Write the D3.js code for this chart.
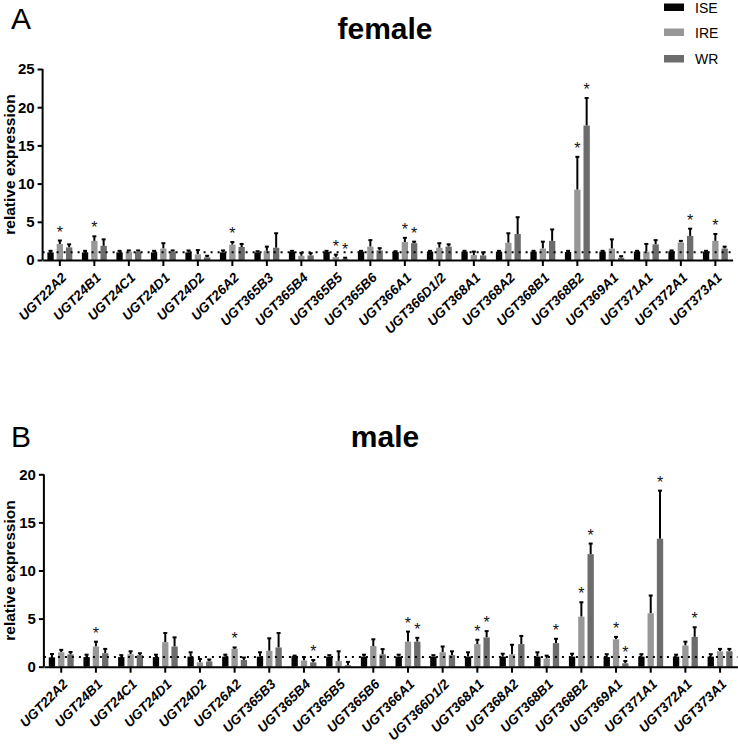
<!DOCTYPE html>
<html><head><meta charset="utf-8">
<script src="https://cdn.jsdelivr.net/npm/d3@7"></script>
<style>body{margin:0;background:#fff}svg{display:block;font-family:"Liberation Sans",Arial,sans-serif}</style>
</head><body><svg id="c" width="738" height="744"></svg>
<script>
const categories = ["UGT22A2","UGT24B1","UGT24C1","UGT24D1","UGT24D2","UGT26A2","UGT365B3","UGT365B4","UGT365B5","UGT365B6","UGT366A1","UGT366D1/2","UGT368A1","UGT368A2","UGT368B1","UGT368B2","UGT369A1","UGT371A1","UGT372A1","UGT373A1"];
const seriesNames = ["ISE","IRE","WR"];
const seriesColors = ["#050505","#979797","#6c6c6c"];

const femaleISE    = [1.0,1.0,1.0,1.0,1.0,1.0,1.0,1.1,1.05,1.1,1.05,1.1,1.1,1.1,1.1,1.05,1.1,1.1,1.15,1.1];
const femaleISEerr = [0.2,0.2,0.2,0.2,0.25,0.25,0.15,0.1,0.15,0.1,0.1,0.1,0.1,0.1,0.1,0.15,0.1,0.1,0.1,0.1];
const femaleIRE    = [2.1,2.5,1.1,1.5,0.75,2.0,1.2,0.55,0.4,1.75,2.35,1.6,0.65,2.25,1.5,9.2,1.5,1.1,2.3,2.5];
const femaleIREerr = [0.45,0.6,0.15,0.7,0.55,0.35,0.55,0.4,0.3,0.85,0.55,0.6,0.45,1.25,0.9,4.3,1.2,1.0,0.2,0.9];
const femaleWR     = [1.65,1.85,1.1,1.1,0.35,1.7,1.6,0.6,0.15,1.25,2.2,1.75,0.6,3.4,2.5,17.6,0.3,2.05,3.15,1.5];
const femaleWRerr  = [0.4,0.85,0.15,0.15,0.2,0.4,1.9,0.3,0.15,0.3,0.2,0.3,0.4,2.2,1.5,3.6,0.2,0.55,0.95,0.25];
const femaleIREsig = [0,1,5,8,10,15,19];
const femaleWRsig  = [8,10,15,18];

const maleISE    = [0.97,1.0,1.0,1.0,1.05,1.05,1.05,1.1,1.05,1.05,1.05,1.05,1.05,1.05,1.05,1.05,1.0,1.05,1.05,1.05];
const maleISEerr = [0.35,0.25,0.2,0.25,0.45,0.2,0.45,0.05,0.15,0.2,0.2,0.15,0.45,0.3,0.45,0.3,0.3,0.25,0.2,0.25];
const maleIRE    = [1.5,2.1,1.3,2.55,0.45,1.85,1.65,0.65,0.6,2.15,2.6,1.5,2.35,1.28,0.85,5.2,2.85,5.55,2.2,1.6];
const maleIREerr = [0.25,0.5,0.3,0.95,0.35,0.15,1.3,0.35,1.0,0.7,1.05,0.6,0.45,1.0,0.3,1.5,0.25,1.85,0.4,0.25];
const maleWR     = [1.28,1.4,1.2,2.1,0.55,0.7,2.0,0.45,0.15,1.28,2.6,1.2,3.05,2.35,2.45,11.7,0.35,13.3,3.1,1.6];
const maleWRerr  = [0.25,0.45,0.2,0.95,0.2,0.25,1.5,0.25,0.35,0.55,0.4,0.4,0.65,0.85,0.45,1.1,0.25,5.0,1.0,0.25];
const maleIREsig = [1,5,10,12,15,16];
const maleWRsig  = [7,10,12,14,15,16,17,18];

const yTicksFemale = [0,5,10,15,20,25];
const yTicksMale = [0,5,10,15,20];

const svg = d3.select("#c");

function panel(cfg){
  const g = svg.append("g");
  const x = d3.scaleBand().domain(categories).range(cfg.xr).paddingInner(0).paddingOuter(0);
  const x1 = d3.scaleBand().domain(seriesNames).range([-13.95,13.95]).paddingInner(0.32).paddingOuter(0.16);
  const y = d3.scaleLinear().domain([0,cfg.ymax]).range(cfg.yr);
  const series = [
    {name:"ISE", vals:cfg.ise, err:cfg.iseErr, sig:[]},
    {name:"IRE", vals:cfg.ire, err:cfg.ireErr, sig:cfg.ireSig},
    {name:"WR",  vals:cfg.wr,  err:cfg.wrErr,  sig:cfg.wrSig}
  ];
  const rows = [];
  series.forEach((s,si)=>categories.forEach((c,i)=>rows.push({c, s:s.name, si, v:s.vals[i], e:s.err[i], sig:s.sig.includes(i)})));
  const cx = d => x(d.c) + x.bandwidth()/2 + x1(d.s) + x1.bandwidth()/2;

  g.selectAll("line.err").data(rows).join("line")
    .attr("x1",cx).attr("x2",cx).attr("y1",d=>y(d.v)).attr("y2",d=>y(d.v+d.e))
    .attr("stroke","#000").attr("stroke-width",2);
  g.selectAll("line.cap").data(rows).join("line")
    .attr("x1",d=>cx(d)-2).attr("x2",d=>cx(d)+2).attr("y1",d=>y(d.v+d.e)).attr("y2",d=>y(d.v+d.e))
    .attr("stroke","#000").attr("stroke-width",2);
  g.selectAll("rect.bar").data(rows).join("rect")
    .attr("x",d=>x(d.c)+x.bandwidth()/2+x1(d.s)).attr("width",x1.bandwidth())
    .attr("y",d=>y(d.v)).attr("height",d=>y(0)-y(d.v))
    .attr("fill",d=>seriesColors[d.si]);
  g.append("line").attr("x1",cfg.xr[0]).attr("x2",cfg.xr[1]).attr("y1",y(1)).attr("y2",y(1))
    .attr("stroke","#000").attr("stroke-width",2).attr("stroke-dasharray","2,5");
  g.selectAll("text.star").data(rows.filter(d=>d.sig)).join("text")
    .attr("x",cx).attr("y",d=>y(d.v+d.e)-3).attr("text-anchor","middle")
    .attr("font-size",16).attr("fill","#111").text("*");

  const ya = g.append("g").attr("transform",`translate(${cfg.xr[0]},0)`)
    .call(d3.axisLeft(y).tickValues(cfg.yTicks).tickSize(5).tickPadding(3).tickFormat(d3.format("d")));
  ya.select(".domain").attr("stroke-width",2).attr("d",`M0,${cfg.yr[0]}V${cfg.yr[1]}`);
  ya.selectAll(".tick line").attr("stroke-width",2);
  ya.selectAll("text").attr("font-size",15).attr("font-weight","bold").attr("fill","#000").attr("font-family","Liberation Sans, Arial, sans-serif");

  const xa = g.append("g").attr("transform",`translate(0,${cfg.yr[0]})`)
    .call(d3.axisBottom(x).tickSize(6).tickSizeOuter(0));
  xa.select(".domain").attr("stroke-width",2);
  xa.selectAll(".tick line").attr("stroke-width",2);
  xa.selectAll("text").attr("font-size",13.5).attr("font-weight","bold").attr("font-style","italic")
    .attr("fill","#000").attr("font-family","Liberation Sans, Arial, sans-serif")
    .attr("text-anchor","end").attr("y",0).attr("dy","0.35em")
    .attr("transform","translate(4,15) rotate(-45)");

  g.append("text").attr("transform",`translate(15,${(cfg.yr[0]+cfg.yr[1])/2}) rotate(-90)`)
    .attr("text-anchor","middle").attr("font-size",15.5).attr("font-weight","bold").text("relative expression");
  g.append("text").attr("x",385).attr("y",cfg.titleY).attr("text-anchor","middle")
    .attr("font-size",30).attr("font-weight","bold").text(cfg.title);
  g.append("text").attr("x",11).attr("y",cfg.letterY).attr("font-size",30).text(cfg.letter);
}

panel({xr:[42.6,732.6], yr:[260,69], ymax:25, yTicks:yTicksFemale,
  ise:femaleISE, iseErr:femaleISEerr, ire:femaleIRE, ireErr:femaleIREerr, wr:femaleWR, wrErr:femaleWRerr,
  ireSig:femaleIREsig, wrSig:femaleWRsig, title:"female", titleY:38.5, letter:"A", letterY:28.5});
panel({xr:[43.9,737.4], yr:[666.7,474.3], ymax:20, yTicks:yTicksMale,
  ise:maleISE, iseErr:maleISEerr, ire:maleIRE, ireErr:maleIREerr, wr:maleWR, wrErr:maleWRerr,
  ireSig:maleIREsig, wrSig:maleWRsig, title:"male", titleY:447, letter:"B", letterY:447});

const leg = svg.append("g");
const legY = [3.5,28.5,55];
seriesNames.forEach((n,i)=>{
  leg.append("rect").attr("x",664).attr("y",legY[i]).attr("width",20).attr("height",7.5).attr("fill",seriesColors[i]);
  leg.append("text").attr("x",695).attr("y",legY[i]+9).attr("font-size",14).text(n);
});
</script></body></html>
